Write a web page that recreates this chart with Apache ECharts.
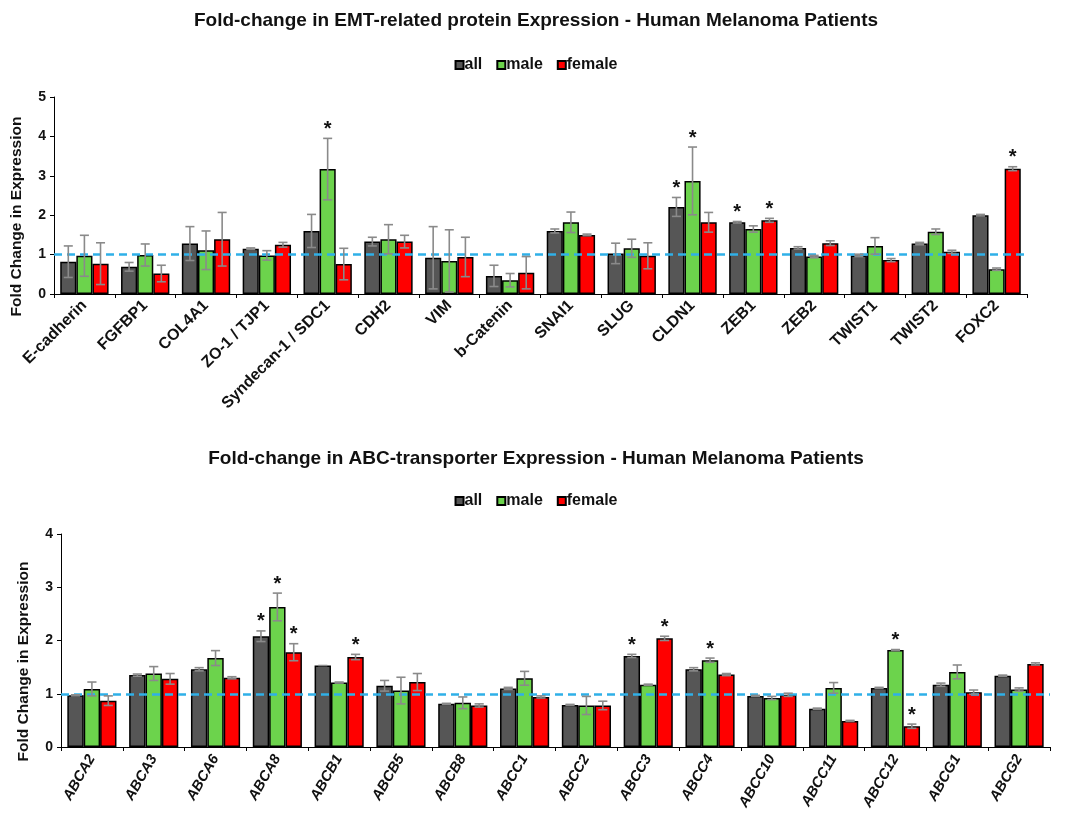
<!DOCTYPE html>
<html><head><meta charset="utf-8">
<script src="https://cdn.jsdelivr.net/npm/echarts@6/dist/echarts.min.js"></script>
<style>html,body{margin:0;padding:0;background:#fff}#c{width:1072px;height:818px}</style>
</head><body><div id="c"></div>
<script>
const emtCategories = ['E-cadherin','FGFBP1','COL4A1','ZO-1 / TJP1','Syndecan-1 / SDC1','CDH2','VIM','b-Catenin','SNAI1','SLUG','CLDN1','ZEB1','ZEB2','TWIST1','TWIST2','FOXC2'];
const emtAll = [0.82,0.69,1.28,1.15,1.60,1.33,0.92,0.46,1.60,1.03,2.21,1.82,1.17,0.98,1.28,2.00];
const emtAllErr = [0.40,0.11,0.43,0.02,0.42,0.11,0.79,0.27,0.05,0.26,0.24,0.02,0.03,0.03,0.03,0.02];
const emtMale = [0.97,0.99,1.11,0.98,3.17,1.39,0.84,0.35,1.82,1.16,2.87,1.65,0.95,1.22,1.58,0.63];
const emtMaleErr = [0.52,0.28,0.49,0.12,0.78,0.37,0.79,0.17,0.26,0.23,0.86,0.08,0.03,0.21,0.07,0.03];
const emtFemale = [0.77,0.52,1.39,1.25,0.76,1.33,0.94,0.54,1.50,0.97,1.82,1.87,1.29,0.86,1.07,3.18];
const emtFemaleErr = [0.53,0.21,0.68,0.06,0.40,0.16,0.50,0.41,0.02,0.33,0.25,0.05,0.06,0.04,0.04,0.05];
const emtAllStar = [0,0,0,0,0,0,0,0,0,0,1,1,0,0,0,0];
const emtMaleStar = [0,0,0,0,1,0,0,0,0,0,1,0,0,0,0,0];
const emtFemaleStar = [0,0,0,0,0,0,0,0,0,0,0,1,0,0,0,1];

const abcCategories = ['ABCA2','ABCA3','ABCA6','ABCA8','ABCB1','ABCB5','ABCB8','ABCC1','ABCC2','ABCC3','ABCC4','ABCC10','ABCC11','ABCC12','ABCG1','ABCG2'];
const abcAll = [0.97,1.35,1.46,2.08,1.53,1.15,0.81,1.10,0.79,1.71,1.46,0.96,0.72,1.11,1.17,1.34];
const abcAllErr = [0.01,0.02,0.03,0.10,0.00,0.10,0.01,0.02,0.01,0.03,0.03,0.01,0.01,0.01,0.03,0.01];
const abcMale = [1.09,1.38,1.67,2.63,1.21,1.06,0.83,1.29,0.78,1.17,1.63,0.92,1.11,1.82,1.41,1.08];
const abcMaleErr = [0.13,0.13,0.14,0.26,0.01,0.25,0.11,0.13,0.17,0.01,0.04,0.03,0.10,0.01,0.13,0.03];
const abcFemale = [0.87,1.28,1.30,1.78,1.69,1.22,0.78,0.94,0.78,2.04,1.36,0.98,0.49,0.39,1.03,1.56];
const abcFemaleErr = [0.09,0.10,0.02,0.16,0.05,0.16,0.03,0.02,0.08,0.04,0.02,0.03,0.01,0.04,0.04,0.02];
const abcAllStar = [0,0,0,1,0,0,0,0,0,1,0,0,0,0,0,0];
const abcMaleStar = [0,0,0,1,0,0,0,0,0,0,1,0,0,1,0,0];
const abcFemaleStar = [0,0,0,1,1,0,0,0,0,1,0,0,0,1,0,0];

const seriesNames = ['all','male','female'];
const colors = ['#565656','#6cd34c','#ff0000'];
const FONT = '"Liberation Sans", Arial, sans-serif';
const BAR_FRAC = 0.265;

const chart = echarts.init(document.getElementById('c'), null, {renderer:'canvas'});

function barSeries(gi, name, vals, color, withLine) {
  const s = {
    type:'bar', name, xAxisIndex:gi, yAxisIndex:gi, data: vals,
    barWidth: (BAR_FRAC*100)+'%', barGap:'0%',
    itemStyle:{color, borderColor:'#000', borderWidth:1.5},
    emphasis:{disabled:true}
  };
  if (withLine) {
    s.markLine = {
      silent:true, symbol:['none','none'], label:{show:false},
      lineStyle:{color:'#2fb0e8', type:[8,5], width:2.5},
      data:[{yAxis:1}], z:5
    };
  }
  return s;
}

function errSeries(gi, k, vals, errs, stars) {
  return {
    type:'custom', xAxisIndex:gi, yAxisIndex:gi, z:10, silent:true,
    data: vals.map((v,i)=>[i, v, errs[i], stars[i]]),
    encode:{x:0, y:1},
    renderItem:(params, api)=>{
      const i = api.value(0), v = api.value(1), e = api.value(2), s = api.value(3);
      const c = api.coord([i, v]);
      const bw = api.size([1,0])[0]*BAR_FRAC;
      const x = c[0] + (k-1)*bw;
      const yt = api.coord([i, v+e])[1];
      const yb = api.coord([i, v-e])[1];
      const cw = bw*0.28;
      const st = {stroke:'#8a8a8a', lineWidth:1.6};
      const children = [];
      if (e > 0.005) {
        children.push({type:'line', shape:{x1:x,y1:yt,x2:x,y2:yb}, style:st});
        children.push({type:'line', shape:{x1:x-cw,y1:yt,x2:x+cw,y2:yt}, style:st});
        children.push({type:'line', shape:{x1:x-cw,y1:yb,x2:x+cw,y2:yb}, style:st});
      } else {
        children.push({type:'line', shape:{x1:x-cw,y1:yt,x2:x+cw,y2:yt}, style:st});
      }
      if (s) {
        children.push({type:'text', x:x, y:yt+1, style:{text:'*', fill:'#111', font:'bold 20px '+FONT, textAlign:'center', textVerticalAlign:'bottom'}});
      }
      return {type:'group', children};
    }
  };
}

function xAxis(gi, cats, rot, italic, size) {
  return {
    type:'category', gridIndex:gi, data:cats,
    axisLine:{lineStyle:{color:'#000', width:1}},
    axisTick:{show:true, alignWithLabel:false, length:4, lineStyle:{color:'#000'}},
    axisLabel:{interval:0, rotate:rot, color:'#111', fontFamily:FONT, fontWeight:'bold', fontSize:size, fontStyle: italic?'italic':'normal', margin:9}
  };
}
function yAxis(gi, max) {
  return {
    type:'value', gridIndex:gi, min:0, max, interval:1,
    name:'Fold Change in Expression', nameLocation:'middle', nameGap:29,
    nameTextStyle:{color:'#111', fontFamily:FONT, fontWeight:'bold', fontSize:15.5, padding:[0,42,0,0]},
    axisLine:{show:true, lineStyle:{color:'#000', width:1}},
    axisTick:{show:true, length:4, lineStyle:{color:'#000'}},
    axisLabel:{color:'#111', fontFamily:FONT, fontWeight:'bold', fontSize:14, margin:8},
    splitLine:{show:false}
  };
}
function legend(top) {
  return {
    top, left:'center', data:seriesNames, icon:'rect', itemWidth:8, itemHeight:8, itemGap:14,
    textStyle:{color:'#111', fontFamily:FONT, fontWeight:'bold', fontSize:16, padding:[0,0,0,-4]},
    selectedMode:false
  };
}

chart.setOption({
  animation:false,
  backgroundColor:'#fff',
  title:[
    {text:'Fold-change in EMT-related protein Expression - Human Melanoma Patients', left:'center', top:6,
     textStyle:{fontFamily:FONT, fontWeight:'bold', fontSize:19, color:'#111'}},
    {text:'Fold-change in ABC-transporter Expression - Human Melanoma Patients', left:'center', top:444,
     textStyle:{fontFamily:FONT, fontWeight:'bold', fontSize:19, color:'#111'}}
  ],
  legend:[legend(52), legend(488)],
  grid:[
    {left:54, right:45, top:97, height:197},
    {left:61, right:22, top:534, height:213}
  ],
  xAxis:[xAxis(0, emtCategories, 45, false, 16), xAxis(1, abcCategories, 60, true, 14.5)],
  yAxis:[yAxis(0,5), yAxis(1,4)],
  series:[
    barSeries(0,'all',emtAll,colors[0],true),
    barSeries(0,'male',emtMale,colors[1],false),
    barSeries(0,'female',emtFemale,colors[2],false),
    barSeries(1,'all',abcAll,colors[0],true),
    barSeries(1,'male',abcMale,colors[1],false),
    barSeries(1,'female',abcFemale,colors[2],false),
    errSeries(0,0,emtAll,emtAllErr,emtAllStar),
    errSeries(0,1,emtMale,emtMaleErr,emtMaleStar),
    errSeries(0,2,emtFemale,emtFemaleErr,emtFemaleStar),
    errSeries(1,0,abcAll,abcAllErr,abcAllStar),
    errSeries(1,1,abcMale,abcMaleErr,abcMaleStar),
    errSeries(1,2,abcFemale,abcFemaleErr,abcFemaleStar)
  ]
});
</script>
</body></html>
